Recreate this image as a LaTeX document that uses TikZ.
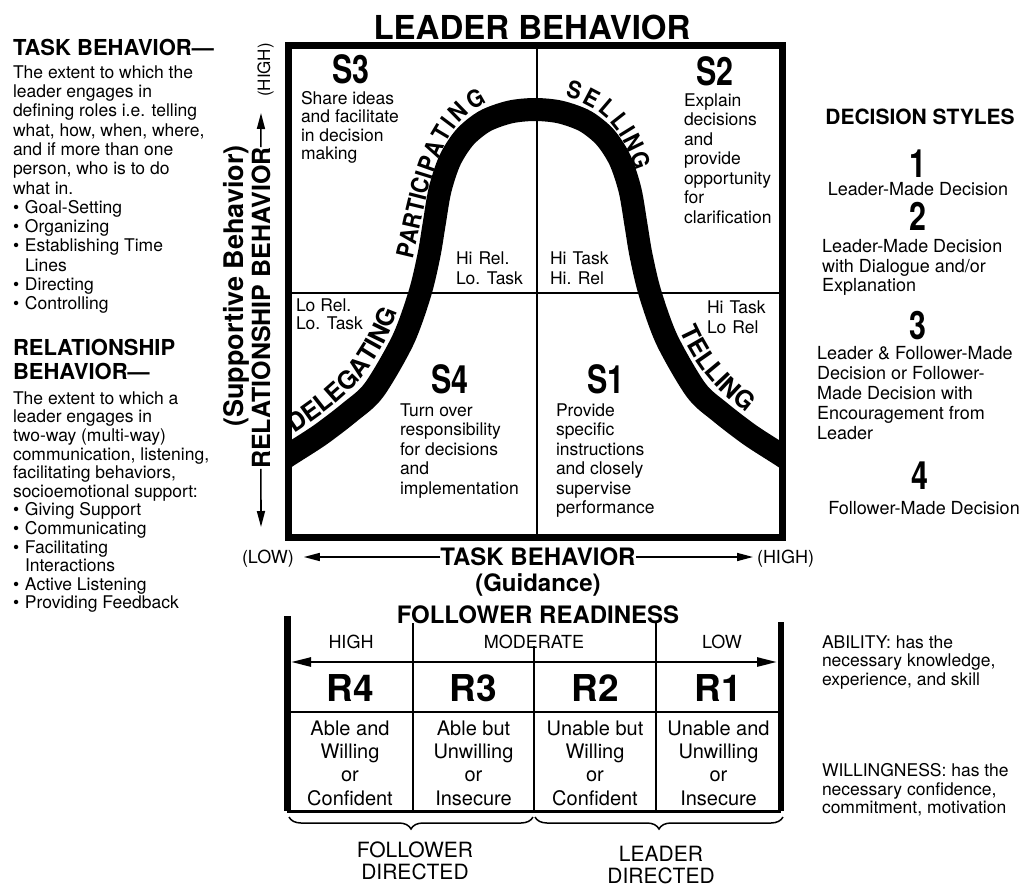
\documentclass[tikz,border=0pt]{standalone}
\usepackage{fontspec}
\usepackage{graphicx}
\setmainfont{TeX Gyre Heros}
\newfontfamily\condfont{TeX Gyre Heros}[FakeStretch=0.78]
\newfontfamily\curvefont{TeX Gyre Heros}[FakeStretch=0.9]
\usetikzlibrary{arrows.meta,decorations.text,decorations.pathreplacing}
\newcommand\fsz[2]{\fontsize{#1}{#2}\selectfont}
\newcommand\bul{\makebox[12pt][l]{\textbullet}}
\newcommand\ind{\hspace*{12pt}}
\begin{document}
\begin{tikzpicture}[x=1pt,y=-1pt,
  every node/.style={inner sep=0pt,outer sep=0pt},
  lblk/.style={anchor=north west,align=left},
  cblk/.style={anchor=north,align=center},
  head/.style={font=\fsz{22}{24}\bfseries},
  slabel/.style={font=\fsz{39}{39}\condfont\bfseries},
  qtext/.style={anchor=north west,align=left},
  gridline/.style={line width=2pt},
  frame/.style={line width=7pt},
  bell/.style={line width=23pt},
  axisarrow/.style={line width=1.6pt,-{Triangle[length=16pt,width=8pt]}},
  tabline/.style={line width=2.5pt},
  brc/.style={decorate,decoration={brace,mirror,amplitude=12pt},line width=1.5pt},
  curvelabel/.style={decorate,decoration={text along path,text={|\curvefont\fsz{24}{24}\bfseries|#1},raise=15pt}},
  edgelabel/.style={decorate,decoration={text along path,text={|\fsz{25}{25}\bfseries|#1},raise=0pt}}
]
\useasboundingbox (0,0) rectangle (1026,888);

% ---------- title ----------
\node[font=\fsz{33}{33}\bfseries] (title) at (532,27) {LEADER BEHAVIOR};

% ---------- left explanations ----------
\node[head,anchor=base west] (taskh) at (13,56) {TASK BEHAVIOR—};
\node[lblk,font=\fsz{17.5}{19.3}] (taskt) at (13,65.5) {The extent to which the\\
leader engages in\\
defining roles i.e. telling\\
what, how, when, where,\\
and if more than one\\
person, who is to do\\
what in.\\
\bul Goal-Setting\\
\bul Organizing\\
\bul Establishing Time\\
\ind Lines\\
\bul Directing\\
\bul Controlling};

\node[lblk,head] (relh) at (13,339) {RELATIONSHIP\\BEHAVIOR—};
\node[lblk,font=\fsz{17.5}{18.6}] (relt) at (13,391.5) {The extent to which a\\
leader engages in\\
two-way (multi-way)\\
communication, listening,\\
facilitating behaviors,\\
socioemotional support:\\
\bul Giving Support\\
\bul Communicating\\
\bul Facilitating\\
\ind Interactions\\
\bul Active Listening\\
\bul Providing Feedback};

% ---------- vertical axis ----------
\node[rotate=90,anchor=base,font=\fsz{27}{27}\bfseries] (supp) at (243,286) {(Supportive Behavior)};
\node[rotate=90,anchor=base,font=\fsz{25}{25}\bfseries] (relb) at (270,308) {RELATIONSHIP BEHAVIOR};
\node[rotate=90,anchor=base,font=\fsz{17}{17}] (hiL) at (270,70) {(HIGH)};
\coordinate (upTip) at (261,113);
\coordinate (dnTip) at (261,527);
\draw[axisarrow] (relb.east) -- (upTip);
\draw[axisarrow] (relb.west) -- (dnTip);

% ---------- main grid ----------
\draw[gridline] (537,46) -- (537,537);
\draw[gridline] (288,293) -- (782,293);
\begin{scope}
\clip (288,46) rectangle (782,537);
\draw[bell] plot[smooth] coordinates {(260,474) (289,455) (320,435) (350,412) (374,390) (403,340) (420,293)
  (429,255) (434,225) (440,190) (450,160) (465,137) (485,121) (510,112) (535,109.5)
  (560,112) (585,121) (605,137) (620,160) (630,190) (636,225) (641,255) (650,293)
  (667,340) (696,390) (720,412) (750,435) (781,455) (810,474)};
\end{scope}
\draw[frame] (288,46) rectangle (782,537);

% labels along the bell curve
\path[edgelabel=DELEGATING,decoration={text align={left indent=16pt}}]
  (280.8,442.4) .. controls (347.8,398.8) and (379.4,374.6) .. (405.7,288.6);
\path[curvelabel=PARTICIPATING,decoration={text align={left indent=31pt}}]
  (420,293) -- (429,255) .. controls (451,147.2) and (465,109.5) .. (535,109.5)
  .. controls (605,109.5) and (619,147.2) .. (641,255) -- (650,293);
\path[curvelabel=SELLING,decoration={text align={left indent=266pt}}]
  (420,293) -- (429,255) .. controls (451,147.2) and (465,109.5) .. (535,109.5)
  .. controls (605,109.5) and (619,147.2) .. (641,255) -- (650,293);
\path[edgelabel=TELLING,decoration={text align={left indent=45pt}}]
  (664.3,288.6) .. controls (690.6,374.6) and (722.2,398.8) .. (789.2,442.4);

% quadrant texts
\node[slabel] (s3) at (351,69) {S3};
\node[slabel] (s2) at (715,71) {S2};
\node[slabel] (s4) at (450,379) {S4};
\node[slabel] (s1) at (606,379) {S1};
\node[qtext,font=\fsz{17.5}{18.5}] (s3t) at (301,91.4) {Share ideas\\and facilitate\\in decision\\making};
\node[qtext,font=\fsz{17.5}{19.5}] (s2t) at (684,93.4) {Explain\\decisions\\and\\provide\\opportunity\\for\\clarification};
\node[qtext,font=\fsz{17.5}{19.5}] (s4t) at (400,403.4) {Turn over\\responsibility\\for decisions\\and\\implementation};
\node[qtext,font=\fsz{17.5}{19.5}] (s1t) at (556,403.4) {Provide\\specific\\instructions\\and closely\\supervise\\performance};
\node[qtext,font=\fsz{17.5}{20}] (q3) at (456,251.4) {Hi\hspace{6pt}Rel.\\Lo. Task};
\node[qtext,font=\fsz{17.5}{20}] (q2) at (550,251.4) {Hi\hspace{6pt}Task\\Hi. Rel};
\node[qtext,font=\fsz{17.5}{18}] (q4) at (296,298.4) {Lo Rel.\\Lo. Task};
\node[qtext,font=\fsz{17.5}{20}] (q1) at (707,300.4) {Hi\hspace{6pt}Task\\Lo\hspace{6pt}Rel};

% ---------- horizontal axis ----------
\node[font=\fsz{24}{24}\bfseries] (taskb) at (538,557) {TASK BEHAVIOR};
\node[font=\fsz{18}{18},anchor=base west] (lowX) at (242,563.5) {(LOW)};
\node[font=\fsz{18}{18},anchor=base west] (highX) at (757,563.5) {(HIGH)};
\draw[axisarrow,shorten >=10pt] (taskb.west) -- (taskb.west -| lowX.east);
\draw[axisarrow,shorten >=4pt] (taskb.east) -- (taskb.east -| highX.west);
\node[font=\fsz{24}{24}\bfseries] (guid) at (538,585) {(Guidance)};

% ---------- follower readiness ----------
\node[font=\fsz{24}{24}\bfseries] (frd) at (538,615) {FOLLOWER READINESS};
\node[font=\fsz{18}{18}] (hiR) at (351,642) {HIGH};
\node[font=\fsz{18}{18}] (modR) at (534,642) {MODERATE};
\node[font=\fsz{18}{18}] (loR) at (722,642) {LOW};
\draw[line width=7pt] (287,616) -- (287,811);
\draw[line width=6pt] (781,622) -- (781,811);
\draw[gridline] (413,623) -- (413,811);
\draw[gridline] (534,646) -- (534,811);
\draw[gridline] (656,623) -- (656,811);
\draw[tabline,{Triangle[length=20pt,width=9pt]}-{Triangle[length=20pt,width=9pt]}] (291,662) -- (777,662);
\draw[tabline] (287,712) -- (781,712);
\draw[line width=3pt] (287,811) -- (781,811);
\node[font=\fsz{37}{37}\bfseries] (r4) at (350,688) {R4};
\node[font=\fsz{37}{37}\bfseries] (r3) at (473.5,688) {R3};
\node[font=\fsz{37}{37}\bfseries] (r2) at (595,688) {R2};
\node[font=\fsz{37}{37}\bfseries] (r1) at (718.5,688) {R1};
\node[cblk,font=\fsz{20}{23.3}] (t4) at (350,720.6) {Able and\\Willing\\or\\Confident};
\node[cblk,font=\fsz{20}{23.3}] (t3) at (473.5,720.6) {Able but\\Unwilling\\or\\Insecure};
\node[cblk,font=\fsz{20}{23.3}] (t2) at (595,720.6) {Unable but\\Willing\\or\\Confident};
\node[cblk,font=\fsz{20}{23.3}] (t1) at (718.5,720.6) {Unable and\\Unwilling\\or\\Insecure};
\draw[brc] (289,817) -- (533,817);
\draw[brc] (535,817) -- (783,817);
\node[cblk,font=\fsz{21}{22}] (fdir) at (415,842) {FOLLOWER\\DIRECTED};
\node[cblk,font=\fsz{21}{22}] (ldir) at (661,846) {LEADER\\DIRECTED};

% ---------- decision styles ----------
\node[font=\fsz{21}{21}\bfseries] (dsh) at (920,117) {DECISION STYLES};
\node[slabel] (d1) at (918,164) {1};
\node[font=\fsz{18}{20},anchor=base] (d1t) at (918,195.5) {Leader-Made Decision};
\node[slabel] (d2) at (918,216) {2};
\node[lblk,font=\fsz{18}{19.5}] (d2t) at (822,239.5) {Leader-Made Decision\\with Dialogue and/or\\Explanation};
\node[slabel] (d3) at (918,326) {3};
\node[lblk,font=\fsz{18}{20}] (d3t) at (817,346.5) {Leader \& Follower-Made\\Decision or Follower-\\Made Decision with\\Encouragement from\\Leader};
\node[slabel] (d4) at (920,476) {4};
\node[font=\fsz{18}{20},anchor=base] (d4t) at (924,514.5) {Follower-Made Decision};

% ---------- ability / willingness ----------
\node[lblk,font=\fsz{17.5}{18.3}] (abil) at (822,635.7) {ABILITY: has the\\necessary knowledge,\\experience, and skill};
\node[lblk,font=\fsz{17.5}{18.3}] (will) at (822,763.7) {WILLINGNESS: has the\\necessary confidence,\\commitment, motivation};
\end{tikzpicture}
\end{document}
